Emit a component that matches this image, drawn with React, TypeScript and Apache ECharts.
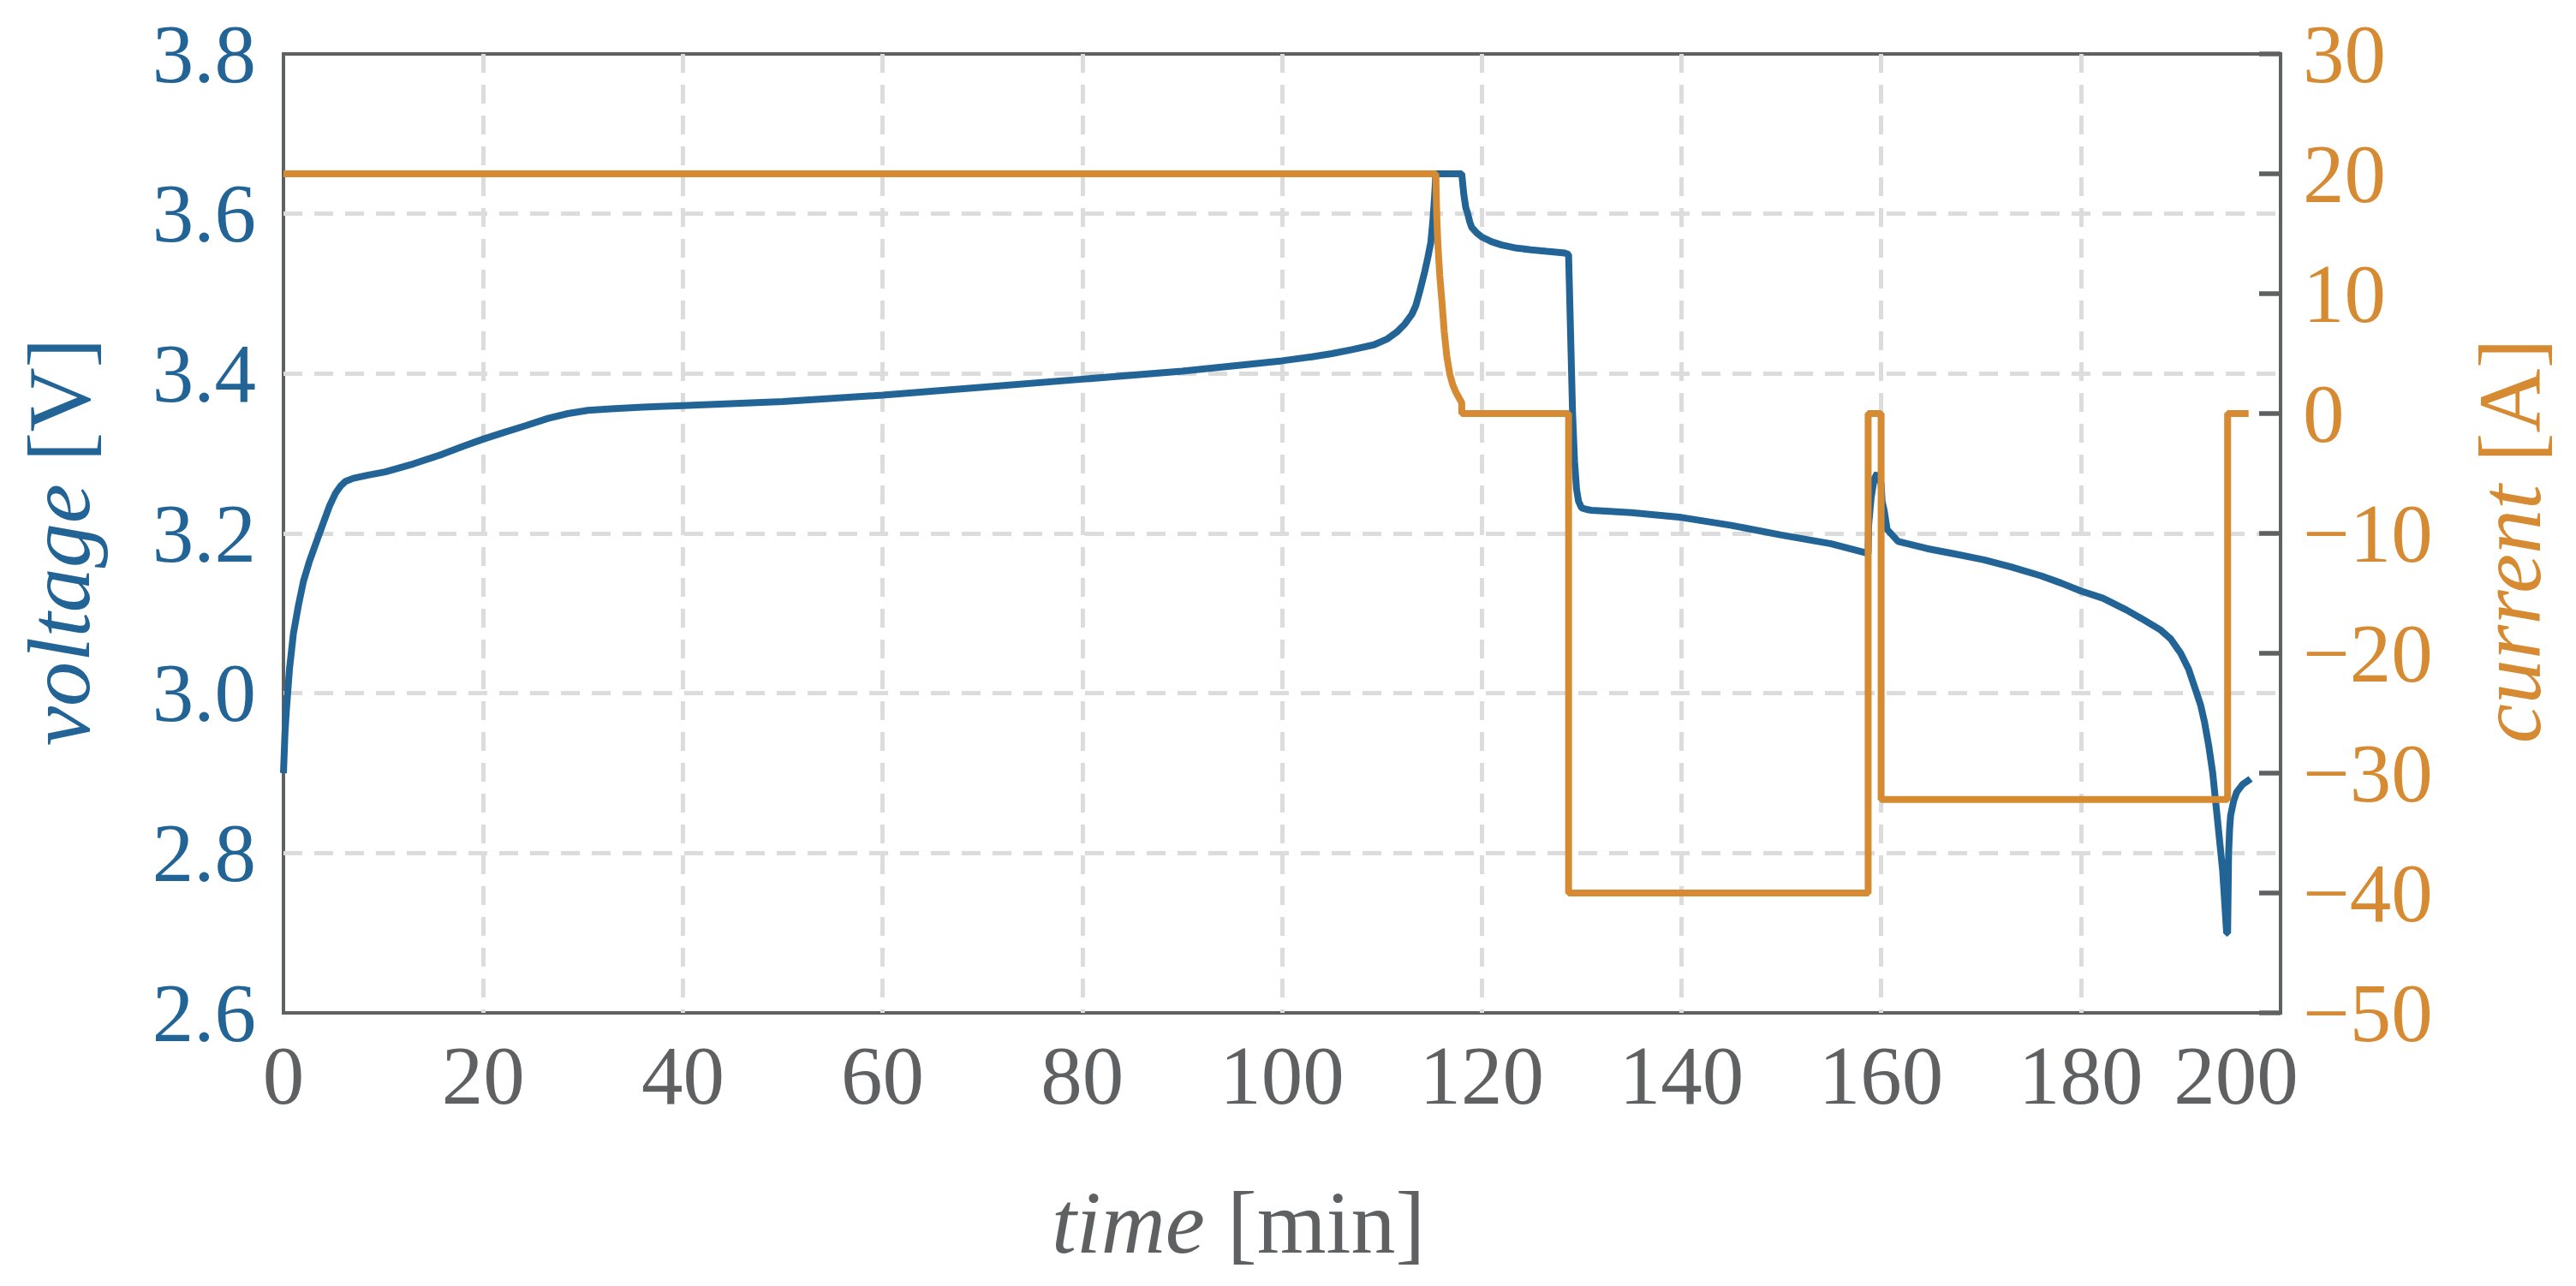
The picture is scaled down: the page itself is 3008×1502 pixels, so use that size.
import React, { useEffect, useRef } from "react";
import * as echarts from "echarts";

// time axis ticks (min)
const timeMin = 0;
const timeMax = 200;
const timeStep = 20;

// voltage axis (V)
const voltMin = 2.6;
const voltMax = 3.8;
const voltStep = 0.2;

// current axis (A)
const currMin = -50;
const currMax = 30;
const currStep = 10;

// voltage curve: time [min]
const voltageTimes = [
  0, 0.15, 0.3, 0.6, 1.0, 1.5, 2.0, 2.6, 3.2, 3.9, 4.6, 5.2, 5.7, 6.2, 7.0, 8.5, 10.2, 13, 15.9, 18, 20, 22, 24.3, 26.5,
  28.5, 30.5, 32.8, 36, 40, 50, 60, 70, 80, 90, 100, 103, 105, 107, 109.2, 110.5, 111.5, 112.3, 113, 113.4, 113.8,
  114.3, 114.6, 114.9, 115.1, 115.3, 115.4, 118.0, 118.2, 118.4, 118.6, 118.8, 119.0, 119.5, 120, 121, 122, 123.5,
  124.9, 126.5, 128.3, 128.7, 128.9, 129.1, 129.3, 129.5, 129.7, 130, 130.5, 131, 135, 140, 145, 150, 155, 158.7,
  158.75, 159.0, 159.3, 159.6, 160.0, 160.1, 160.3, 160.6, 161.7, 164.6, 167.5, 170.3, 173, 176, 178, 180, 182.2,
  184.6, 186, 188, 189, 190, 190.8, 191.5, 192, 192.4, 192.8, 193.2, 193.7, 194.2, 194.6, 194.7, 194.8, 194.9, 195.0,
  195.3, 195.6, 196.2, 196.8, 197.0,
];
// voltage curve: voltage [V]
const voltageValues = [
  2.9, 2.95, 2.98, 3.03, 3.075, 3.11, 3.14, 3.165, 3.186, 3.21, 3.234, 3.25, 3.259, 3.265, 3.269, 3.273, 3.277, 3.287,
  3.299, 3.309, 3.318, 3.326, 3.335, 3.344, 3.35, 3.354, 3.356, 3.358, 3.36, 3.365, 3.373, 3.383, 3.393, 3.403, 3.416,
  3.421, 3.425, 3.43, 3.436, 3.443, 3.452, 3.462, 3.474, 3.485, 3.503, 3.528, 3.545, 3.564, 3.59, 3.625, 3.65, 3.65,
  3.625, 3.608, 3.6, 3.59, 3.583, 3.576, 3.571, 3.565, 3.561, 3.557, 3.555, 3.553, 3.551, 3.549, 3.45, 3.35, 3.29,
  3.255, 3.24, 3.232, 3.23, 3.229, 3.226, 3.22, 3.21, 3.198, 3.187, 3.175, 3.21, 3.245, 3.268, 3.275, 3.262, 3.24,
  3.229, 3.205, 3.19, 3.181, 3.174, 3.167, 3.158, 3.147, 3.138, 3.128, 3.119, 3.104, 3.094, 3.079, 3.068, 3.05, 3.03,
  3.004, 2.985, 2.963, 2.935, 2.901, 2.84, 2.778, 2.7, 2.7, 2.8, 2.83, 2.847, 2.865, 2.876, 2.886, 2.891, 2.893,
];

// current curve: time [min] and current [A]
const currentTimes = [
  0, 115.4, 115.5, 115.6, 115.8, 116.0, 116.25, 116.5, 116.8, 117.1, 117.4, 117.8, 118.0, 118.0, 128.7, 128.7, 158.7,
  158.7, 160.0, 160.0, 194.7, 194.7, 196.8,
];
const currentValues = [
  20, 20, 16.5, 14.3, 11.5, 9.5, 6.8, 4.8, 3.3, 2.4, 1.8, 1.2, 0.9, 0, 0, -40, -40, 0, 0, -32.2, -32.2, 0, 0,
];

const BLUE = "#236497";
const ORANGE = "#D68A31";
const GREY = "#5F6062";
const GRID = "#DCDCDC";
const FONT = "'Liberation Serif', 'DejaVu Serif', serif";

export default function App() {
  const ref = useRef<HTMLDivElement>(null);

  useEffect(() => {
    if (!ref.current) return;
    const chart = echarts.init(ref.current, null, { renderer: "svg" });

    const voltageData = voltageTimes.map((t, i) => [t, voltageValues[i]]);
    const currentData = currentTimes.map((t, i) => [t, currentValues[i]]);

    const titleStyle = (text: string, color: string) => ({
      text,
      fill: color,
      fontSize: 104,
      fontFamily: FONT,
      align: "center",
      verticalAlign: "middle",
      rich: {
        i: { fontStyle: "italic", fontSize: 104, fontFamily: FONT, fill: color },
        r: { fontSize: 104, fontFamily: FONT, fill: color },
      },
    });

    chart.setOption({
      animation: false,
      backgroundColor: "#ffffff",
      grid: {
        left: 331,
        right: 345,
        top: 63,
        bottom: 319,
        show: true,
        borderColor: GREY,
        borderWidth: 4,
        backgroundColor: "transparent",
      },
      xAxis: {
        type: "value",
        min: timeMin,
        max: timeMax,
        interval: timeStep,
        axisLine: { show: false },
        axisTick: { show: false },
        axisLabel: {
          color: GREY,
          fontSize: 97,
          lineHeight: 70,
          fontFamily: FONT,
          margin: 38,
          formatter: (v: number) => (v === timeMax ? "{m|" + v + "}" : String(v)),
          rich: {
            m: { color: GREY, fontSize: 97, lineHeight: 70, fontFamily: FONT, padding: [0, 104, 0, 0] },
          },
        },
        splitLine: {
          show: true,
          showMinLine: false,
          showMaxLine: false,
          lineStyle: { color: GRID, width: 5, type: [22, 14] },
        },
      },
      yAxis: [
        {
          type: "value",
          position: "left",
          min: voltMin,
          max: voltMax,
          interval: voltStep,
          axisLine: { show: false },
          axisTick: { show: false },
          axisLabel: {
            color: BLUE,
            fontSize: 97,
            lineHeight: 70,
            fontFamily: FONT,
            margin: 32,
            formatter: (v: number) => v.toFixed(1),
          },
          splitLine: {
            show: true,
            showMinLine: false,
            showMaxLine: false,
            lineStyle: { color: GRID, width: 5, type: [22, 14] },
          },
        },
        {
          type: "value",
          position: "right",
          min: currMin,
          max: currMax,
          interval: currStep,
          axisLine: { show: false },
          axisTick: {
            show: true,
            inside: true,
            length: 25,
            lineStyle: { color: GREY, width: 5.5 },
          },
          axisLabel: {
            color: ORANGE,
            fontSize: 97,
            lineHeight: 70,
            fontFamily: FONT,
            margin: 26,
            formatter: (v: number) => String(v).replace("-", "\u2212"),
          },
          splitLine: { show: false },
        },
      ],
      series: [
        {
          name: "voltage",
          type: "line",
          yAxisIndex: 0,
          data: voltageData,
          showSymbol: false,
          smooth: false,
          lineStyle: { color: BLUE, width: 8 },
          z: 2,
        },
        {
          name: "current",
          type: "line",
          yAxisIndex: 1,
          data: currentData,
          showSymbol: false,
          smooth: false,
          lineStyle: { color: ORANGE, width: 8 },
          z: 3,
        },
      ],
      graphic: [
        {
          type: "text",
          x: 68,
          y: 633,
          rotation: Math.PI / 2,
          style: titleStyle("{i|voltage} {r|[V]}", BLUE),
        },
        {
          type: "text",
          x: 2930,
          y: 632,
          rotation: Math.PI / 2,
          style: titleStyle("{i|current} {r|[A]}", ORANGE),
        },
        {
          type: "text",
          x: 1446,
          y: 1427,
          style: titleStyle("{i|time} {r|[min]}", GREY),
        },
      ],
    });

    return () => chart.dispose();
  }, []);

  return (
    <div
      ref={ref}
      style={{ position: "fixed", left: 0, top: 0, width: 3008, height: 1502, background: "#ffffff" }}
    />
  );
}
